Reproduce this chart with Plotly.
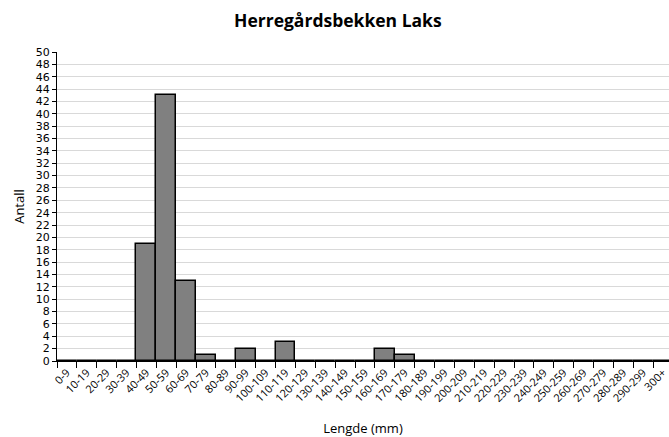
import plotly.graph_objects as go

# Length classes (mm) and number of salmon in each class
length_classes = [
    "0-9", "10-19", "20-29", "30-39", "40-49", "50-59", "60-69", "70-79",
    "80-89", "90-99", "100-109", "110-119", "120-129", "130-139", "140-149",
    "150-159", "160-169", "170-179", "180-189", "190-199", "200-209",
    "210-219", "220-229", "230-239", "240-249", "250-259", "260-269",
    "270-279", "280-289", "290-299", "300+",
]
counts = [0, 0, 0, 0, 19, 43, 13, 1, 0, 2, 0, 3, 0, 0, 0, 0, 2, 1,
          0, 0, 0, 0, 0, 0, 0, 0, 0, 0, 0, 0, 0]

y_ticks = list(range(0, 51, 2))

fig = go.Figure(
    go.Bar(
        x=length_classes,
        y=counts,
        marker=dict(color="#808080", line=dict(color="#000000", width=1.5)),
        hoverinfo="x+y",
    )
)

fig.update_layout(
    width=669,
    height=437,
    margin=dict(l=57, r=0, t=52, b=76),
    paper_bgcolor="white",
    plot_bgcolor="white",
    bargap=0,
    showlegend=False,
    font=dict(family="Open Sans, Liberation Sans, sans-serif", color="#000000"),
    title=dict(
        text="<b>Herregårdsbekken Laks</b>",
        x=0.505,
        xanchor="center",
        y=0.953,
        yanchor="middle",
        font=dict(size=17.5, family="Open Sans, sans-serif", color="#000000"),
    ),
)

fig.update_xaxes(
    type="category",
    range=[-0.5, 30.3],
    tickson="boundaries",
    ticks="outside",
    ticklen=6,
    tickcolor="#000000",
    tickwidth=1,
    tickangle=-45,
    tickfont=dict(size=11, family="Open Sans, sans-serif"),
    showline=True,
    linecolor="#000000",
    linewidth=1,
    showgrid=False,
    title=dict(text="Lengde (mm)", font=dict(size=13), standoff=20),
)

fig.update_yaxes(
    range=[0, 50],
    tickvals=y_ticks,
    ticks="outside",
    ticklen=4,
    tickcolor="#000000",
    tickfont=dict(size=11, family="DejaVu Sans, sans-serif"),
    showline=True,
    linecolor="#000000",
    linewidth=1,
    showgrid=True,
    gridcolor="#d9d9d9",
    gridwidth=1,
    zeroline=False,
    title=dict(text="Antall", font=dict(size=13), standoff=8),
)

fig.write_html("out.html")
